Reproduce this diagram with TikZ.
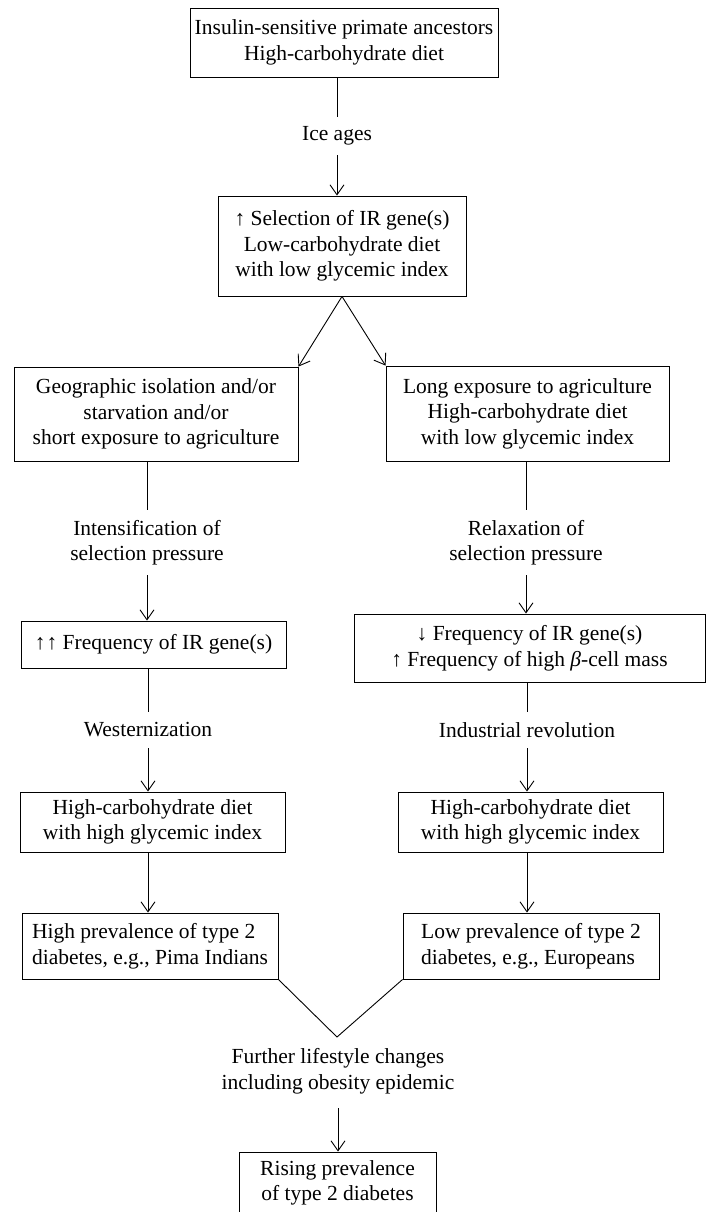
\documentclass[tikz,border=0pt]{standalone}
\usepackage{fontspec}
\setmainfont{Liberation Serif}
\usetikzlibrary{arrows.meta}
\begin{document}
\begin{tikzpicture}[x=1pt,y=-1pt,
  txt/.style={inner sep=0pt, font=\fontsize{21.5}{25.5}\selectfont},
  box/.style={txt, draw, line width=0.9pt, align=center},
  lbl/.style={txt, align=center},
  conn/.style={line width=0.9pt},
  arr/.style={line width=0.9pt, -{Straight Barb[length=10pt,width=14pt]}}]
\useasboundingbox (0,0) rectangle (707,1212);

% boxes
\node[box, minimum width=308pt, minimum height=69pt] (top) at (344,42.5)
  {Insulin-sensitive primate ancestors\\High-carbohydrate diet};
\node[lbl, minimum height=38pt] (ice) at (337,136) {Ice ages};
\node[box, minimum width=248pt, minimum height=100pt] (sel) at (342,246)
  {↑ Selection of IR gene(s)\\Low-carbohydrate diet\\with low glycemic index};

\node[box, minimum width=284pt, minimum height=94pt] (geo) at (156,414)
  {Geographic isolation and/or\\starvation and/or\\short exposure to agriculture};
\node[box, minimum width=283pt, minimum height=95pt] (long) at (527.5,413.5)
  {Long exposure to agriculture\\High-carbohydrate diet\\with low glycemic index};

\node[lbl, minimum height=65pt] (intens) at (147,542.5)
  {Intensification of\\selection pressure};
\node[lbl, minimum height=65pt] (relax) at (526,542.5)
  {Relaxation of\\selection pressure};

\node[box, minimum width=265pt, minimum height=47pt] (freqL) at (153.5,644.5)
  {↑\kern1pt↑ Frequency of IR gene(s)};
\node[box, minimum width=351pt, minimum height=68pt] (freqR) at (529.5,648)
  {↓ Frequency of IR gene(s)\\↑ Frequency of high \textit{β}-cell mass};

\node[lbl, minimum height=36pt] (west) at (148,730) {Westernization};
\node[lbl, minimum height=36pt] (indus) at (527,730) {Industrial revolution};

\node[box, minimum width=265pt, minimum height=60pt] (hcL) at (152.5,822)
  {High-carbohydrate diet\\with high glycemic index};
\node[box, minimum width=265pt, minimum height=60pt] (hcR) at (530.5,822)
  {High-carbohydrate diet\\with high glycemic index};

\node[box, align=left, minimum width=256pt, minimum height=66pt] (prevL) at (150,946)
  {High prevalence of type 2\\diabetes, e.g., Pima Indians};
\node[box, align=left, minimum width=256pt, minimum height=66pt] (prevR) at (531,946)
  {Low prevalence of type 2\\diabetes, e.g., Europeans};

\coordinate (vb) at (337,1037);
\node[lbl, minimum height=74pt] (further) at (338,1071)
  {Further lifestyle changes\\including obesity epidemic};
\node[box, minimum width=197pt, minimum height=62pt] (rising) at (337.5,1183)
  {Rising prevalence\\of type 2 diabetes};

% connectors
\draw[conn] (ice.north |- top.south) -- (ice.north);
\draw[arr] (ice.south) -- (ice.south |- sel.north);
\draw[arr] (sel.south) -- (geo.north east);
\draw[arr] (sel.south) -- (long.north west);

\draw[conn] (intens.north |- geo.south) -- (intens.north);
\draw[arr] (intens.south) -- (intens.south |- freqL.north);
\draw[conn] (relax.north |- long.south) -- (relax.north);
\draw[arr] (relax.south) -- (relax.south |- freqR.north);

\draw[conn] (west.north |- freqL.south) -- (west.north);
\draw[arr] (west.south) -- (west.south |- hcL.north);
\draw[conn] (indus.north |- freqR.south) -- (indus.north);
\draw[arr] (indus.south) -- (indus.south |- hcR.north);

\draw[arr] (west.south |- hcL.south) -- (west.south |- prevL.north);
\draw[arr] (indus.south |- hcR.south) -- (indus.south |- prevR.north);

\draw[conn] (prevL.south east) -- (vb) -- (prevR.south west);
\draw[arr] (further.south) -- (further.south |- rising.north);
\end{tikzpicture}
\end{document}
